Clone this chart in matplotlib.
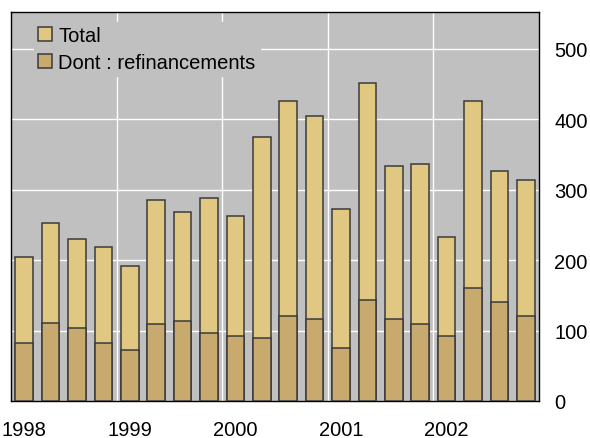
import numpy as np
import matplotlib.pyplot as plt

plt.rcParams['font.family'] = ['Liberation Sans', 'DejaVu Sans']

# quarterly values 1998 Q1 - 2002 Q4
total = [205, 253, 230, 219, 191, 285, 268, 288, 262, 375,
         426, 405, 273, 451, 333, 336, 233, 426, 327, 313]
refi = [83, 111, 104, 83, 72, 109, 114, 97, 92, 89,
        120, 117, 75, 143, 117, 109, 92, 160, 140, 120]
years = ['1998', '1999', '2000', '2001', '2002']

x = np.arange(len(total))

fig = plt.figure(figsize=(5.9, 4.39), dpi=100)
ax = fig.add_axes([11/590, 1 - 402/439, 528/590, 389/439])
ax.set_facecolor('#c0c0c0')

ax.bar(x, total, width=0.67, color='#e0c882', edgecolor='#3a3a3a', linewidth=1.1,
       label='Total', zorder=3)
ax.bar(x, refi, width=0.67, color='#c8aa6e', edgecolor='#3a3a3a', linewidth=1.1,
       label='Dont : refinancements', zorder=3)

ax.set_xlim(-0.5, len(total) - 0.5)
ax.set_ylim(0, 552)

ax.set_yticks([0, 100, 200, 300, 400, 500])
ax.yaxis.tick_right()
ax.tick_params(axis='y', length=0, pad=11, labelsize=14.5)
ax.set_xticks(np.arange(0, 20, 4))
ax.set_xticklabels(years)
ax.tick_params(axis='x', length=0, pad=14, labelsize=14.5)

for v in [100, 200, 300, 400, 500]:
    ax.axhline(v, color='white', linewidth=1, zorder=1)
for b in [3.5, 7.5, 11.5, 15.5]:
    ax.axvline(b, color='white', linewidth=1, zorder=1)

for s in ax.spines.values():
    s.set_color('black')
    s.set_linewidth(1)

leg = ax.legend(loc='upper left', bbox_to_anchor=(0.025, 1.0), fontsize=14.5,
                frameon=True, facecolor='#c0c0c0', edgecolor='#c0c0c0',
                framealpha=1, fancybox=False, handlelength=0.7, handleheight=0.7,
                handletextpad=0.3, labelspacing=0.4, borderpad=0.2)
leg.set_zorder(5)

fig.savefig('out.png', dpi=100)
